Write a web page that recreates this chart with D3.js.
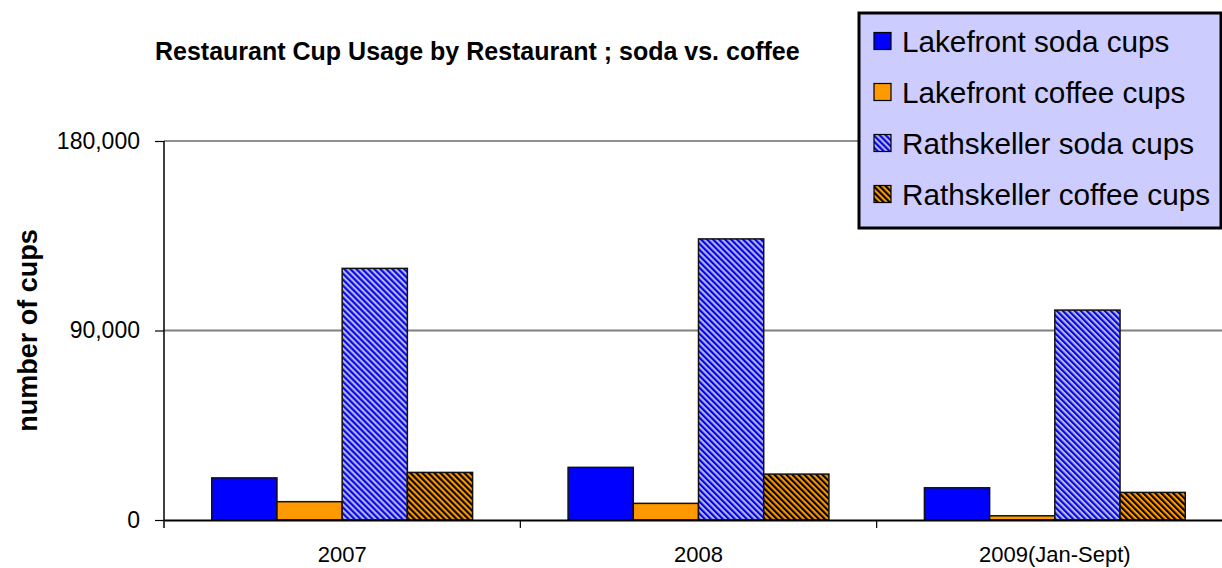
<!DOCTYPE html>
<html>
<head>
<meta charset="utf-8">
<script src="https://cdn.jsdelivr.net/npm/d3@7/dist/d3.min.js"></script>
<style>
  html, body { margin: 0; padding: 0; background: #fff; }
  svg { display: block; font-family: "Liberation Sans", Arial, sans-serif; }
</style>
</head>
<body>
<svg id="chart" width="1222" height="568"></svg>
<script>
// Cup counts per year, one array per series
const years = ["2007", "2008", "2009(Jan-Sept)"];
const seriesNames = ["Lakefront soda cups", "Lakefront coffee cups", "Rathskeller soda cups", "Rathskeller coffee cups"];
const lakefrontSoda = [20000, 25000, 15300];
const lakefrontCoffee = [8700, 7900, 2000];
const rathskellerSoda = [119500, 133500, 99700];
const rathskellerCoffee = [22600, 21800, 13100];
const yTicks = [0, 90000, 180000];

const seriesValues = [lakefrontSoda, lakefrontCoffee, rathskellerSoda, rathskellerCoffee];

const svg = d3.select("#chart");

// Plot area (right side runs past the canvas edge)
const plot = { left: 164, right: 1233, top: 141, bottom: 520 };

const defs = svg.append("defs");
function stripes(id, bg, fg) {
  const s = 4.24;
  const p = defs.append("pattern")
    .attr("id", id)
    .attr("patternUnits", "userSpaceOnUse")
    .attr("width", s).attr("height", s)
    .attr("patternTransform", "rotate(-45)");
  p.append("rect").attr("width", s).attr("height", s).attr("fill", bg);
  p.append("rect").attr("width", s / 2).attr("height", s).attr("fill", fg);
}
stripes("rsoda", "#B8B8CC", "#0000FF");
stripes("rcoffee", "#FF9900", "#000000");

const fills = ["#0000FF", "#FF9900", "url(#rsoda)", "url(#rcoffee)"];

const x0 = d3.scaleBand()
  .domain(years)
  .range([plot.left, plot.right])
  .paddingInner(0.268)
  .paddingOuter(0.134);

const x1 = d3.scaleBand()
  .domain(d3.range(seriesNames.length))
  .range([0, x0.bandwidth()])
  .padding(0);

const y = d3.scaleLinear()
  .domain([0, 180000])
  .range([plot.bottom, plot.top]);

// Gridlines
svg.append("g")
  .selectAll("line")
  .data(yTicks.filter(d => d > 0))
  .join("line")
  .attr("x1", plot.left).attr("x2", plot.right)
  .attr("y1", d => y(d)).attr("y2", d => y(d))
  .attr("stroke", d => d === 180000 ? "#222" : "#808080")
  .attr("stroke-width", d => d === 180000 ? 1.2 : 2);

// Bars
const groups = svg.append("g")
  .selectAll("g")
  .data(years)
  .join("g")
  .attr("transform", d => `translate(${x0(d)},0)`);

groups.selectAll("rect")
  .data((yr, i) => seriesValues.map((vals, s) => ({ s, v: vals[i] })))
  .join("rect")
  .attr("x", d => x1(d.s))
  .attr("width", x1.bandwidth())
  .attr("y", d => y(d.v))
  .attr("height", d => y(0) - y(d.v))
  .attr("fill", d => fills[d.s])
  .attr("stroke", "#111")
  .attr("stroke-width", 1.5);

// Y axis
const yAxis = d3.axisLeft(y)
  .tickValues(yTicks)
  .tickFormat(d3.format(","))
  .tickSize(9)
  .tickPadding(15);

const yg = svg.append("g")
  .attr("transform", `translate(${plot.left},0)`)
  .call(yAxis);
yg.select(".domain").remove();
yg.append("line")
  .attr("x1", 0).attr("x2", 0)
  .attr("y1", plot.top).attr("y2", plot.bottom + 8)
  .attr("stroke", "#000").attr("stroke-width", 1.5);
yg.selectAll(".tick line").attr("stroke", "#000").attr("stroke-width", 1.2);
yg.selectAll(".tick text")
  .attr("font-size", 23)
  .attr("fill", "#000")
  .attr("font-family", "Liberation Sans, Arial, sans-serif");

// X axis
const xg = svg.append("g")
  .attr("transform", `translate(0,${plot.bottom})`)
  .call(d3.axisBottom(x0).tickSize(0).tickPadding(26));
xg.select(".domain").attr("stroke", "#000").attr("stroke-width", 2);
xg.selectAll(".tick text")
  .attr("font-size", 22)
  .attr("fill", "#000")
  .attr("font-family", "Liberation Sans, Arial, sans-serif");
// category separators
xg.append("g").selectAll("line")
  .data(years.slice(1))
  .join("line")
  .attr("x1", d => x0(d) - x0.step() * x0.paddingInner() / 2)
  .attr("x2", d => x0(d) - x0.step() * x0.paddingInner() / 2)
  .attr("y1", 0).attr("y2", 8)
  .attr("stroke", "#000").attr("stroke-width", 1.2);

// Axis title
svg.append("text")
  .attr("transform", `translate(37,${(plot.top + plot.bottom) / 2}) rotate(-90)`)
  .attr("text-anchor", "middle")
  .attr("font-size", 27)
  .attr("font-weight", "bold")
  .attr("fill", "#000")
  .text("number of cups");

// Chart title
svg.append("text")
  .attr("x", 155).attr("y", 60)
  .attr("font-size", 25)
  .attr("font-weight", "bold")
  .attr("fill", "#000")
  .text("Restaurant Cup Usage by Restaurant ; soda vs. coffee");

// Legend
const lg = svg.append("g");
lg.append("rect")
  .attr("x", 859).attr("y", 13)
  .attr("width", 362).attr("height", 215)
  .attr("fill", "#CCCCFF")
  .attr("stroke", "#000").attr("stroke-width", 3);
const rowY = d3.scalePoint().domain(seriesNames).range([41, 194]);
const items = lg.selectAll("g.item")
  .data(seriesNames)
  .join("g").attr("class", "item")
  .attr("transform", d => `translate(874,${rowY(d)})`);
items.append("rect")
  .attr("x", 0).attr("y", -8.5)
  .attr("width", 17).attr("height", 17)
  .attr("fill", (d, i) => fills[i])
  .attr("stroke", "#000").attr("stroke-width", 1.2);
items.append("text")
  .attr("x", 28).attr("y", 10.5)
  .attr("font-size", 29.7)
  .attr("fill", "#000")
  .text(d => d);
</script>
</body>
</html>
